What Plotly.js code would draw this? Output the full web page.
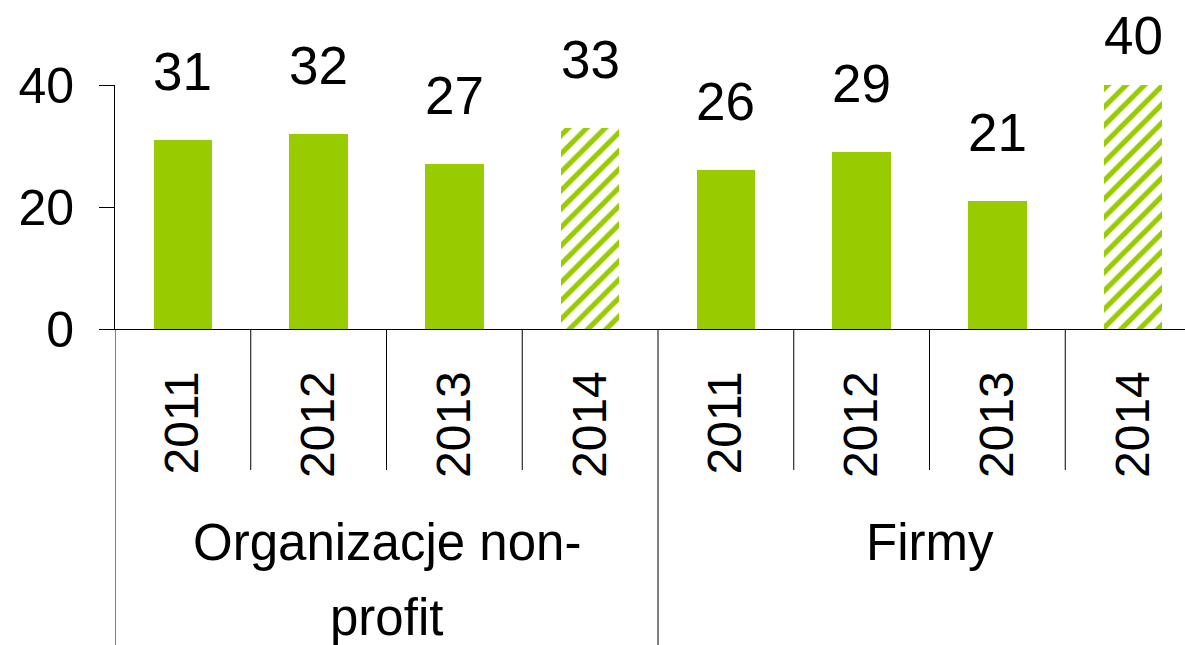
<!DOCTYPE html>
<html>
<head>
<meta charset="utf-8">
<script src="https://cdn.plot.ly/plotly-3.0.1.min.js"></script>
<style>html,body{margin:0;padding:0;background:#fff;overflow:hidden}</style>
</head>
<body>
<div id="chart" style="width:1185px;height:645px"></div>
<script>
// ---- data ----
const groups = [["Organizacje non-", "profit"], ["Firmy"]];
const years = ["2011", "2012", "2013", "2014"];
const nonprofit = [31, 32, 27, 33];
const firmy = [26, 29, 21, 40];
const hatchedYear = "2014";

// ---- geometry / style ----
const W = 1185, H = 645;
const M = {l: 115, r: 0, t: 85, b: 316};
const catPx = 135.75;
const plotW = W - M.l - M.r, plotH = H - M.t - M.b;
const yMax = 40;
const green = "#99CC00";
const FONT = "Arial, 'Liberation Sans', sans-serif";

const seriesList = [nonprofit, firmy];
const traces = [];
const annotations = [];
const shapes = [];
const tickvals = [], ticktext = [];

seriesList.forEach((vals, g) => {
  const xs = years.map((_, i) => g * years.length + i);
  xs.forEach((x, i) => { tickvals.push(x); ticktext.push(years[i]); });
  traces.push({
    type: "bar",
    x: xs,
    y: vals,
    width: 0.43,
    marker: {
      color: green,
      line: {width: 0},
      pattern: {
        shape: years.map(yr => yr === hatchedYear ? "/" : ""),
        fgcolor: green,
        bgcolor: "#ffffff",
        size: 13,
        solidity: 0.4,
        fillmode: "replace"
      }
    },
    hoverinfo: "x+y",
    showlegend: false
  });
  vals.forEach((v, i) => {
    const barTopPx = M.t + (yMax - v) * plotH / yMax;
    const gap = Math.min(47, barTopPx - 57);
    annotations.push({
      x: xs[i], y: v, xref: "x", yref: "y",
      text: String(v), showarrow: false,
      yanchor: "bottom", yshift: gap - 10,
      font: {family: FONT, size: 53, color: "#000"}
    });
  });
  groups[g].forEach((line, k) => {
    annotations.push({
      x: (xs[0] + xs[xs.length - 1]) / 2, xref: "x",
      y: (M.t + plotH - 512 - k * 75) / plotH, yref: "paper",
      yanchor: "top",
      text: line, showarrow: false,
      font: {family: FONT, size: 51, color: "#000"}
    });
  });
});

// category separators
const nCat = tickvals.length;
const shortBottom = -(470 - (M.t + plotH)) / plotH;
const longBottom = -(H - (M.t + plotH)) / plotH;
for (let b = 0; b <= nCat; b++) {
  const isGroupEdge = b % years.length === 0;
  shapes.push({
    type: "line", xref: "x", yref: "paper",
    x0: b - 0.5, x1: b - 0.5, y0: 0, y1: isGroupEdge ? longBottom : shortBottom,
    line: {color: "#000", width: 1}
  });
}

const layout = {
  width: W, height: H,
  margin: M,
  paper_bgcolor: "#fff", plot_bgcolor: "#fff",
  bargap: 0,
  xaxis: {
    range: [-0.5, -0.5 + plotW / catPx],
    tickvals: tickvals, ticktext: ticktext,
    tickangle: -90,
    ticks: "",
    showline: true, linecolor: "#000", linewidth: 1,
    showgrid: false, zeroline: false,
    ticklabelstandoff: 22,
    tickfont: {family: FONT, size: 48, color: "#000"},
    fixedrange: true
  },
  yaxis: {
    range: [0, yMax],
    tickvals: [0, 20, 40],
    ticks: "outside", ticklen: 15, tickcolor: "#000", tickwidth: 1,
    showline: true, linecolor: "#000", linewidth: 1,
    showgrid: false, zeroline: false,
    ticklabelstandoff: 15,
    tickfont: {family: FONT, size: 50, color: "#000"},
    fixedrange: true
  },
  annotations: annotations,
  shapes: shapes
};

Plotly.newPlot("chart", traces, layout, {displayModeBar: false, staticPlot: true});
</script>
</body>
</html>
